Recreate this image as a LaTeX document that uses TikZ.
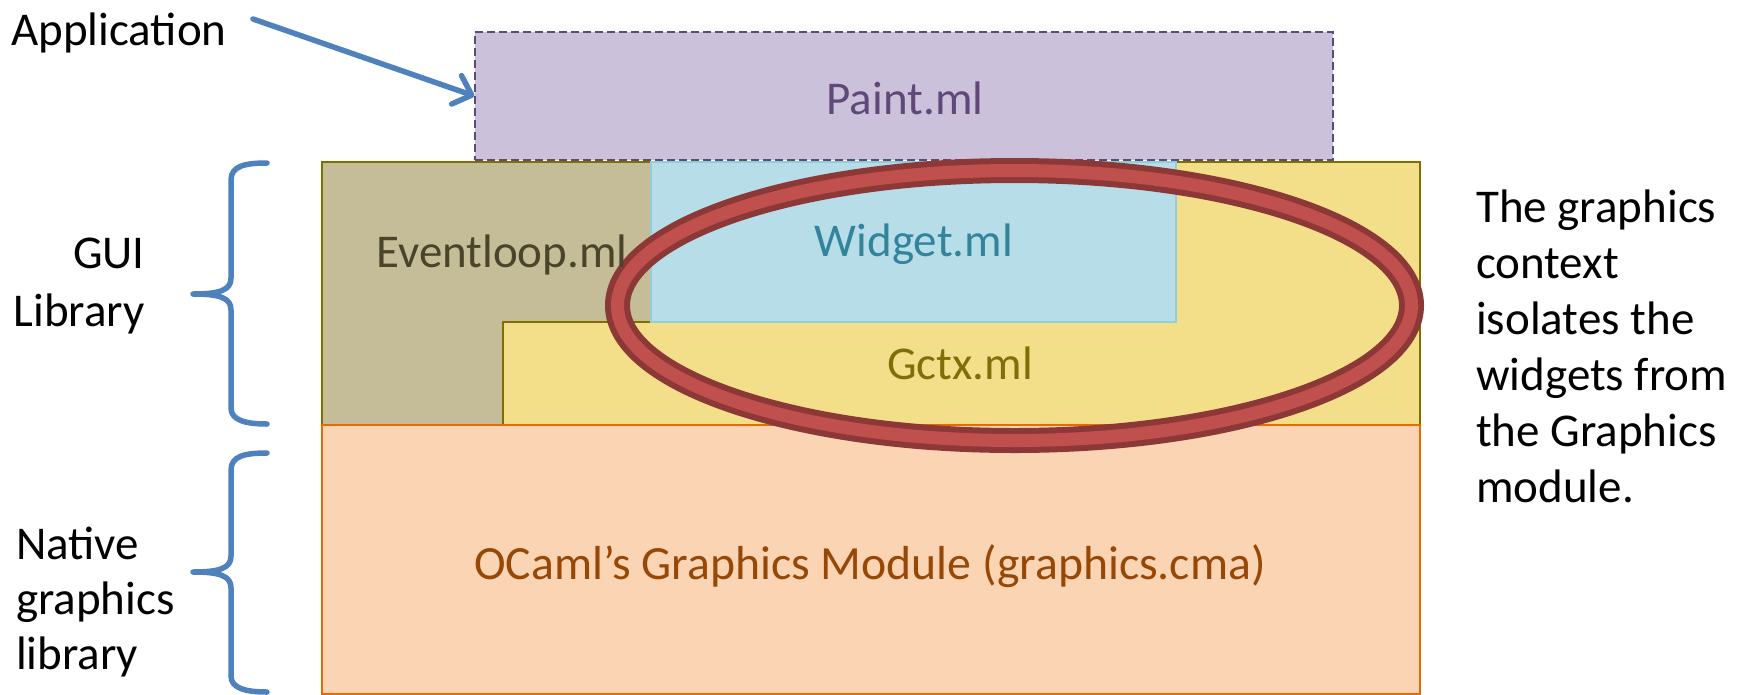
\documentclass[tikz,border=0pt]{standalone}
\usepackage{fontspec}
\setmainfont{Carlito}
\usetikzlibrary{arrows.meta,shapes.geometric}
\definecolor{paintfill}{HTML}{CCC1DA}
\definecolor{paintline}{HTML}{5F497A}
\definecolor{gctxfill}{HTML}{F3DF8A}
\definecolor{gctxline}{HTML}{7F6F00}
\definecolor{gctxtext}{HTML}{7F6F0A}
\definecolor{evfill}{HTML}{C4BD97}
\definecolor{evtext}{HTML}{4A452A}
\definecolor{wdfill}{HTML}{B7DDE8}
\definecolor{wdline}{HTML}{92CDDC}
\definecolor{wdtext}{HTML}{31849B}
\definecolor{ocfill}{HTML}{FBD4B4}
\definecolor{ocline}{HTML}{E36C09}
\definecolor{octext}{HTML}{984806}
\definecolor{ringdark}{HTML}{8C3836}
\definecolor{ringred}{HTML}{C0504D}
\definecolor{bluel}{HTML}{4F81BD}
\begin{document}
\begin{tikzpicture}[x=1pt,y=-1pt,
  big/.style={font=\fontsize{47}{56}\selectfont, inner sep=0pt},
  bluepen/.style={draw=bluel, line width=5.5pt, line cap=round, line join=round},
  boxlabel/.style={big, anchor=center}]
\useasboundingbox (0,0) rectangle (1747,694);
% GUI background (Gctx)
\draw[fill=gctxfill, draw=gctxline, line width=1.2pt] (322,162) rectangle (1420,425);
% Eventloop L shape
\draw[fill=evfill, draw=gctxline, line width=1.2pt] (322,162) -- (651,162) -- (651,322) -- (503,322) -- (503,425) -- (322,425) -- cycle;
% Widget
\draw[fill=wdfill, draw=wdline, line width=1.2pt] (651,162) rectangle (1176,322);
% Paint
\node[draw=paintline, fill=paintfill, dash pattern=on 8pt off 4pt, line width=1.3pt, minimum width=858pt, minimum height=128pt, inner sep=0pt] (paint) at (904,96) {};
% OCaml graphics
\draw[fill=ocfill, draw=ocline, line width=1.8pt] (322,425) rectangle (1420,694);
% ring
\node[ellipse, draw=ringdark, double=ringred, double distance=13pt, line width=6pt, minimum width=794pt, minimum height=270pt, inner sep=0pt] (ring) at (1014.5,305.5) {};
% labels in boxes
\node[boxlabel, text=paintline] (painttxt) at (905,98) {Paint.ml};
\node[boxlabel, text=evtext] (evtxt) at (502,255) {Eventloop.ml};
\node[boxlabel, text=wdtext] (wdtxt) at (914,244) {Widget.ml};
\node[boxlabel, text=gctxtext] (gctxtxt) at (960,363) {Gctx.ml};
\node[boxlabel, text=octext, font=\fontsize{47.7}{56}\selectfont] (octxt) at (870,566) {OCaml’s Graphics Module (graphics.cma)};
% side labels
\node[big, anchor=base west] (app) at (11,45) {Application};
\node[big, anchor=east, align=right, font=\fontsize{47}{58}\selectfont] (gui) at (145,286) {GUI\\Library};
\node[big, anchor=north west, align=left, font=\fontsize{47}{55}\selectfont] (native) at (16,527) {Native\\graphics\\library};
\node[big, anchor=north west, align=left, font=\fontsize{47}{56}\selectfont] (note) at (1476,190) {The graphics\\context\\isolates the\\widgets from\\the Graphics\\module.};
% arrow
\coordinate (arrstart) at (253,19);
\draw[bluepen, -{Straight Barb[length=16pt, width=30pt, round]}] (arrstart) -- (paint.west);
% braces
\draw[bluepen] (267,163) .. controls (245,163) and (231,166) .. (231,180) -- (231,278)
  .. controls (231,290) and (220,294) .. (193,294)
  .. controls (220,294) and (231,298) .. (231,310) -- (231,408)
  .. controls (231,420) and (245,424) .. (267,424);
\draw[bluepen] (267,453) .. controls (245,453) and (231,456) .. (231,470) -- (231,556)
  .. controls (231,568) and (220,572) .. (193,572)
  .. controls (220,572) and (231,576) .. (231,588) -- (231,676)
  .. controls (231,688) and (245,692) .. (267,692);
\end{tikzpicture}
\end{document}
